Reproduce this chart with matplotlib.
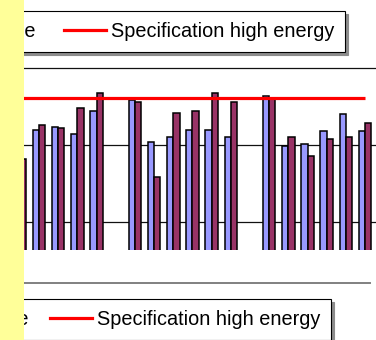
import numpy as np
import matplotlib
matplotlib.use("Agg")
import matplotlib.pyplot as plt
from matplotlib.patches import Patch, Rectangle
from matplotlib.lines import Line2D

plt.rcParams["font.family"] = ["Liberation Sans", "DejaVu Sans"]

# group index along the x axis (group 0 sits mostly behind the yellow strip)
groups = np.arange(19)
low_energy = [55.0, 64.0, 64.8, 62.8, 68.9, np.nan, 71.6, 60.8, 62.0, 63.9,
              64.0, 62.0, np.nan, 72.7, 59.8, 60.3, 63.6, 68.1, 63.6]
high_energy = [56.4, 65.2, 64.3, 69.7, 73.4, np.nan, 71.2, 51.8, 68.2, 68.9,
               73.4, 71.2, np.nan, 72.3, 62.0, 57.1, 61.6, 62.0, 65.7]
spec_high = 72.2
grid_values = [40, 60, 80]

W, H = 376, 340
fig = plt.figure(figsize=(W / 100, H / 100), dpi=100)

# axes placed in pixel terms
ax = fig.add_axes([0, 1 - 250 / H, 375 / W, (250 - 68) / H])
px = 19.18  # pixels per group
ax.set_xlim(1 - 39 / px, 1 + 336 / px)
ax.set_ylim(32.73, 80)
ax.axis("off")

for g in grid_values:
    ax.axhline(g, color="#111111", lw=0.9, zorder=1, clip_on=False)

bw = 6.3 / px
ax.bar(groups - bw / 2, low_energy, width=bw, color="#9999FF",
       edgecolor="black", linewidth=1.1, zorder=2)
ax.bar(groups + bw / 2, high_energy, width=bw, color="#993366",
       edgecolor="black", linewidth=1.1, zorder=2)
ax.hlines(spec_high, groups[0], groups[-1], color="#FF0000", lw=2.3, zorder=3)

handles = [Patch(facecolor="#9999FF", edgecolor="black"),
           Patch(facecolor="#993366", edgecolor="black"),
           Line2D([], [], color="#FF0000", lw=2.3)]
labels = ["Low energy average", "High energy average", "Specification high energy"]

def add_legend(right_px, top_px, colsp):
    leg = fig.legend(handles, labels, ncol=3, loc="upper right",
                     bbox_to_anchor=(right_px / W, 1 - top_px / H),
                     fontsize=14.3, frameon=True, fancybox=False,
                     shadow={"color": "0.55", "alpha": 1.0},
                     borderpad=0.55, borderaxespad=0, handlelength=2.1,
                     handletextpad=0.25, columnspacing=colsp)
    fr = leg.get_frame()
    fr.set_edgecolor("black")
    fr.set_linewidth(0.8)
    fr.set_facecolor("white")
    return leg

add_legend(345, 11, 1.45)
add_legend(331, 299, 1.08)

# grey separator line above the lower legend
fig.add_artist(Line2D([24 / W, 370 / W], [1 - 283 / H, 1 - 283 / H],
                      color="0.5", lw=1.4))

# yellow strip on the left
fig.add_artist(Rectangle((0, 0), 24 / W, 1, transform=fig.transFigure,
                         facecolor="#FFFF99", edgecolor="none", zorder=10))

fig.savefig("out.png", dpi=100)
